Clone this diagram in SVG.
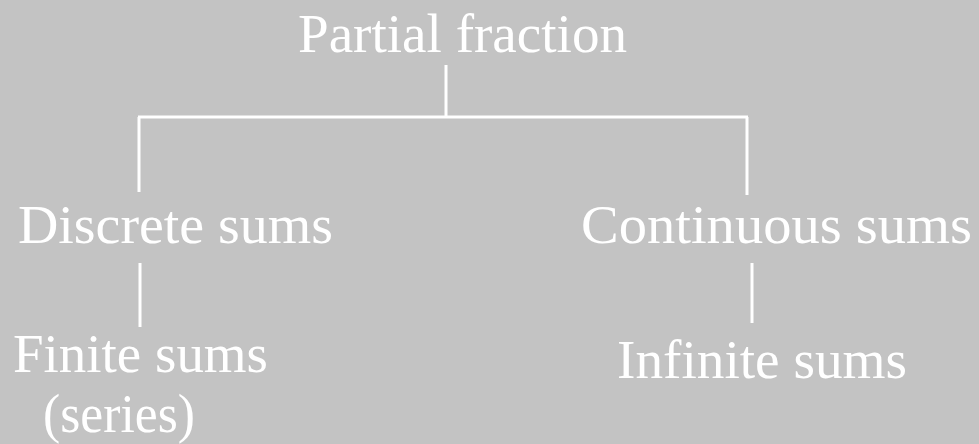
<svg xmlns="http://www.w3.org/2000/svg" width="979" height="444" viewBox="0 0 979 444">
<style>
.t{font-family:"Liberation Serif","Times New Roman",serif;font-size:54px;fill:#ffffff}
.c{stroke:#ffffff;stroke-width:3;fill:none}
</style>
<rect x="0" y="0" width="979" height="444" fill="#c3c3c3"/>
<g id="connectors">
<path class="c" d="M446 65V117M138 117H748M139 117V192M747 117V195M140 263V327M752 263V323"/>
</g>
<g id="partial-fraction"><text class="t" x="298" y="52" textLength="329" lengthAdjust="spacingAndGlyphs">Partial fraction</text></g>
<g id="discrete-sums"><text class="t" x="18" y="243" textLength="315" lengthAdjust="spacingAndGlyphs">Discrete sums</text></g>
<g id="continuous-sums"><text class="t" x="581" y="243" textLength="391" lengthAdjust="spacingAndGlyphs">Continuous sums</text></g>
<g id="finite-sums"><text class="t" x="13" y="372" textLength="255" lengthAdjust="spacingAndGlyphs">Finite sums</text><text class="t" x="43" y="432" textLength="152" lengthAdjust="spacingAndGlyphs">(series)</text></g>
<g id="infinite-sums"><text class="t" x="617" y="378" textLength="290" lengthAdjust="spacingAndGlyphs">Infinite sums</text></g>
</svg>
